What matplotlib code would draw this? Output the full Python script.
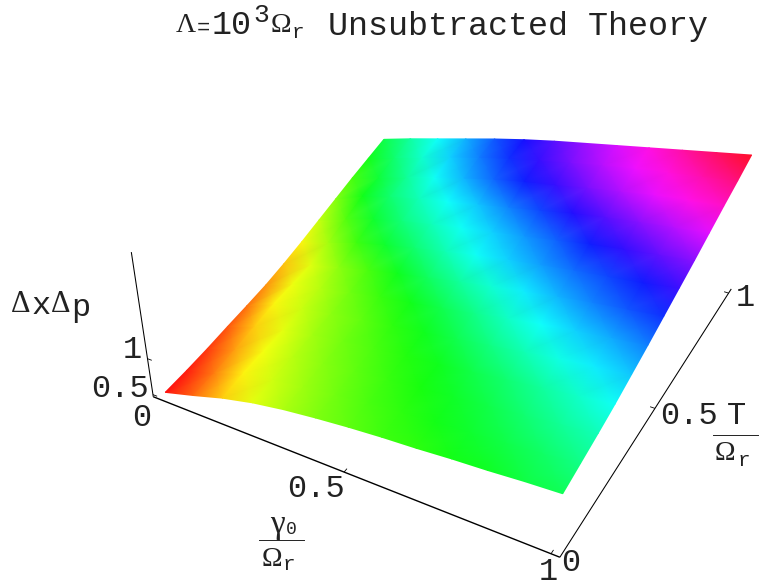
import numpy as np
import matplotlib
matplotlib.use("Agg")
import matplotlib.pyplot as plt
from matplotlib.colors import ListedColormap

# Values
gamma_values = [k / 12 for k in range(13)]
temperature_values = [k / 12 for k in range(13)]
row_00 = [.5, .617, .743, .842, .914, .968, 1.013, 1.049, 1.076, 1.112, 1.139, 1.175, 1.202]
row_01 = [.52, .644, .793, .869, .932, .986, 1.036, 1.076, 1.112, 1.148, 1.184, 1.22, 1.265]
row_02 = [.55, .689, .82, .896, .959, 1.013, 1.058, 1.098, 1.143, 1.188, 1.234, 1.281, 1.328]
row_03 = [.59, .743, .842, .923, .986, 1.04, 1.085, 1.13, 1.184, 1.238, 1.292, 1.346, 1.4]
row_04 = [.625, .797, .878, .95, 1.013, 1.072, 1.13, 1.193, 1.256, 1.319, 1.382, 1.436, 1.49]
row_05 = [.665, .824, .905, .986, 1.058, 1.121, 1.193, 1.265, 1.337, 1.409, 1.472, 1.526, 1.58]
row_06 = [.725, .851, .95, 1.04, 1.13, 1.211, 1.292, 1.364, 1.436, 1.508, 1.571, 1.625, 1.679]
row_07 = [.797, .923, 1.049, 1.148, 1.238, 1.319, 1.4, 1.472, 1.535, 1.598, 1.652, 1.706, 1.778]
row_08 = [.878, 1.022, 1.148, 1.247, 1.328, 1.4, 1.472, 1.544, 1.616, 1.697, 1.76, 1.823, 1.877]
row_09 = [.959, 1.121, 1.238, 1.328, 1.409, 1.49, 1.571, 1.652, 1.742, 1.814, 1.877, 1.931, 1.985]
row_10 = [1.04, 1.166, 1.283, 1.4, 1.508, 1.607, 1.697, 1.769, 1.85, 1.922, 1.994, 2.048, 2.093]
row_11 = [1.112, 1.238, 1.355, 1.472, 1.58, 1.679, 1.769, 1.85, 1.931, 2.003, 2.066, 2.129, 2.192]
row_12 = [1.184, 1.301, 1.409, 1.517, 1.625, 1.724, 1.814, 1.895, 1.976, 2.057, 2.138, 2.219, 2.3]
gamma_ticks = [.5, 1]
temperature_ticks = [.5, 1]
height_ticks = [.5, 1]

# Camera calibration: box landmarks in data space and where they sit in the figure
PAD = .02
Z_LOW, Z_HIGH = .47, 2.35
CAM_WORLD = [(-PAD, -PAD, Z_LOW), (.5, -PAD, Z_LOW), (1 + PAD, -PAD, Z_LOW),
             (1 + PAD, .5, Z_LOW), (1 + PAD, 1 + PAD, Z_LOW), (-PAD, -PAD, Z_HIGH),
             (-PAD, -PAD, 1.0), (0, 0, .5), (1, 1, 2.3), (1, 0, 1.202), (0, 1, 1.184)]
CAM_PIXEL = [(154.3, 397.7), (346.7, 470.7), (558.3, 556), (655, 408), (731.7, 289.3),
             (131.3, 252.3), (149.3, 356.7), (161, 393), (751, 154), (563, 497), (384, 140)]

A, b = [], []
for (x, y, z), (u, v) in zip(CAM_WORLD, CAM_PIXEL):
    A.append([x, y, z, 1, 0, 0, 0, 0, -u * x, -u * y, -u * z]); b.append(u)
    A.append([0, 0, 0, 0, x, y, z, 1, -v * x, -v * y, -v * z]); b.append(v)
P = np.append(np.linalg.lstsq(np.array(A), np.array(b), rcond=None)[0], 1).reshape(3, 4)


def project(x, y, z):
    x, y, z = np.broadcast_arrays(np.asarray(x, float), np.asarray(y, float), np.asarray(z, float))
    h = P @ np.stack([x.ravel(), y.ravel(), z.ravel(), np.ones(x.size)])
    return (h[0] / h[2]).reshape(x.shape), (h[1] / h[2]).reshape(x.shape)


Z = np.array([row_00, row_01, row_02, row_03, row_04, row_05, row_06,
              row_07, row_08, row_09, row_10, row_11, row_12])
G, T = np.meshgrid(gamma_values, temperature_values)
hue = (Z - Z.min()) / (Z.max() - Z.min())

# Mathematica-style Hue[], slightly paled by the reference's fine light mesh lines
rainbow = plt.get_cmap("hsv")(np.linspace(0, 1, 512))[:, :3]
rainbow = ListedColormap(rainbow + (1 - rainbow) * .06)

fig = plt.figure(figsize=(7.59, 5.86), dpi=100)
ax = fig.add_axes([0, 0, 1, 1])
ax.set_xlim(0, 759)
ax.set_ylim(586, 0)
ax.axis("off")

X, Y = project(G, T, Z)
ax.pcolormesh(X, Y, hue, shading="gouraud", cmap=rainbow, vmin=0, vmax=1, zorder=1)

# Box edges
AX = dict(color="black", solid_capstyle="butt", zorder=3)
ax.plot(*project([-PAD, 1 + PAD], [-PAD, -PAD], [Z_LOW, Z_LOW]), lw=1.0, **AX)
ax.plot(*project([1 + PAD, 1 + PAD], [-PAD, 1 + PAD], [Z_LOW, Z_LOW]), lw=.75, **AX)
ax.plot(*project([-PAD, -PAD], [-PAD, -PAD], [Z_LOW, Z_HIGH]), lw=.75, **AX)

# Tick marks
for g in gamma_ticks:
    ax.plot(*project([g, g], [-PAD, -PAD + .012], [Z_LOW, Z_LOW]), lw=.6, **AX)
for t in temperature_ticks:
    ax.plot(*project([1 + PAD, 1 + PAD - .012], [t, t], [Z_LOW, Z_LOW]), lw=.6, **AX)
for z in height_ticks:
    ax.plot(*project([-PAD, -PAD + .012], [-PAD, -PAD], [z, z]), lw=.6, **AX)

MONO = "Liberation Mono"
SERIF = "Liberation Serif"
INK = "#222222"


def label(x, y, s, size=23, family=MONO):
    ax.text(x, y, s, fontsize=size, family=family, color=INK, ha="center", va="center", zorder=4)


# Title
label(186, 26, "Λ", 20, SERIF)
label(203, 28, "=", 16)
label(232, 26, "10", 24)
label(261, 15, "3", 19)
label(281, 26, "Ω", 20, SERIF)
label(298, 33, "r", 15)
ax.text(328, 26, "Unsubtracted Theory", fontsize=24, family=MONO, color=INK,
        ha="left", va="center", zorder=4)

# Tick labels
label(120, 389, "0.5")
label(132, 350, "1")
label(142, 418, "0")
label(316, 489, "0.5")
label(548, 572, "1")
label(571, 563, "0")
label(689, 416, "0.5")
label(745, 298, "1")

# Axis titles
label(21, 304, "Δ", 22, SERIF)
label(41, 306, "x", 23)
label(61, 304, "Δ", 22, SERIF)
label(81, 308, "p", 23)
label(277, 525, "γ", 24, SERIF)
label(291, 530, "0", 13)
ax.plot([259, 304], [540, 540], color=INK, lw=.7)
label(272, 560, "Ω", 20, SERIF)
label(289, 565, "r", 15)
label(737, 416, "T", 23)
ax.plot([713, 758], [435, 435], color=INK, lw=.7)
label(725, 454, "Ω", 20, SERIF)
label(744, 460, "r", 15)

fig.savefig("out.png", dpi=100)
